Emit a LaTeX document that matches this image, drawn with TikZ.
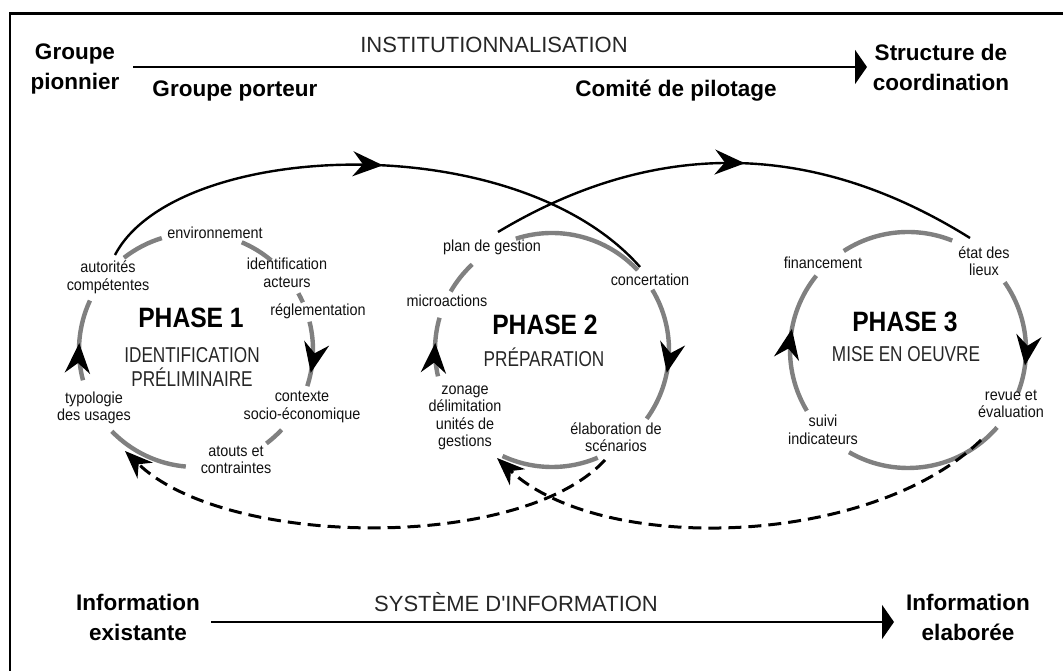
\documentclass[tikz,border=0pt]{standalone}
\usepackage{fontspec}
\setmainfont{Liberation Sans}
\newfontfamily\condfont{Liberation Sans}[FakeStretch=0.8]
\newfontfamily\phasefont{Liberation Sans}[FakeStretch=0.88]
\newfontfamily\lblfont{Liberation Sans}[FakeStretch=0.9]
\usetikzlibrary{arrows.meta,decorations.markings}
\definecolor{ring}{HTML}{808080}
\definecolor{soft}{HTML}{262626}
\definecolor{ink}{HTML}{111111}
\tikzset{
  frame/.style={draw=black, line width=2.5pt},
  axis/.style={draw=black, line width=2.2pt, -{Triangle[length=12pt,width=34pt]}},
  actor/.style={text=black, font=\fontsize{22.5}{30}\selectfont\bfseries, align=center, inner sep=0pt},
  axislbl/.style={text=soft, font=\fontsize{22}{26}\selectfont, inner sep=0pt},
  phase/.style={text=black, font=\phasefont\bfseries\fontsize{28}{30}\selectfont, inner sep=0pt},
  subphase/.style={text=soft, font=\condfont\fontsize{21.5}{23.5}\selectfont, align=center, inner sep=0pt},
  lbl/.style={text=ink, font=\lblfont\fontsize{16}{17.5}\selectfont, align=center, inner sep=0pt},
  ringarc/.style={draw=ring, line width=4.4pt},
  loopline/.style={draw=black, line width=2.4pt},
  backline/.style={draw=black, line width=3pt, dash pattern=on 13pt off 7pt, -{Stealth[length=28pt,width=22pt,inset=9pt]}},
  midtip/.style={postaction={decorate}, decoration={markings, mark=at position #1 with {\arrow{Stealth[length=30pt,width=25pt,inset=10pt,color=black]}}}}
}

\begin{document}
\begin{tikzpicture}[x=1pt,y=1pt]
  \useasboundingbox (0,0) rectangle (1063,671);
  \draw[frame] (10,-20) |- (1090,657.5);

  % institutionnalisation
  \coordinate (instA) at (133,604);
  \coordinate (instB) at (867,604);
  \draw[axis] (instA) -- (instB);
  \node[actor] (pion) at (75,602) {Groupe\\pionnier};
  \node[axislbl, anchor=base] (inst) at (494,618) {INSTITUTIONNALISATION};
  \node[actor, anchor=base] (port) at (235,574) {Groupe porteur};
  \node[actor, anchor=base] (copil) at (676,574) {Comité de pilotage};
  \node[actor] (coord) at (941,604) {Structure de\\coordination};

  % systeme d'information
  \coordinate (infA) at (211,49);
  \coordinate (infB) at (894,49);
  \draw[axis] (infA) -- (infB);
  \node[actor] (exist) at (138,53.5) {Information\\existante};
  \node[axislbl, anchor=base] (sysinf) at (516,59) {SYSTÈME D\textquotesingle INFORMATION};
  \node[actor] (elab) at (968,53.5) {Information\\elaborée};

  % the three cycles
  \coordinate (c1) at (196,321);
  \coordinate (c2) at (552,321);
  \coordinate (c3) at (908,321);

  \foreach \a/\b in {128/107, 67/50, 29/24, -43/-53, 265/224}
    \draw[ringarc] (c1) ++(\a:117) arc[start angle=\a, end angle=\b, radius=117];
  \draw[ringarc, midtip=0.79] (c1) ++(14:117) arc[start angle=14, end angle=-18, radius=117];
  \draw[ringarc, midtip=0.46] (c1) ++(195:117) arc[start angle=195, end angle=155, radius=117];

  \foreach \a/\b in {150/133, 108/43, 293/245}
    \draw[ringarc] (c2) ++(\a:117) arc[start angle=\a, end angle=\b, radius=117];
  \draw[ringarc, midtip=0.63] (c2) ++(31:117) arc[start angle=31, end angle=-36, radius=117];
  \draw[ringarc, midtip=0.57] (c2) ++(193:117) arc[start angle=193, end angle=164, radius=117];

  \foreach \a/\b in {123/68, -41/-120}
    \draw[ringarc] (c3) ++(\a:118) arc[start angle=\a, end angle=\b, radius=118];
  \draw[ringarc, midtip=0.76] (c3) ++(35:118) arc[start angle=35, end angle=-21, radius=118];
  \draw[ringarc, midtip=0.59] (c3) ++(211:118) arc[start angle=211, end angle=141, radius=118];

  % links between phases
  \coordinate (aS) at (115,416);
  \coordinate (aE) at (640,404);
  \draw[loopline, midtip=0.51] (aS) .. controls (175,531) and (515,546) .. (aE);
  \coordinate (bS) at (498,439);
  \coordinate (bE) at (970,433);
  \draw[loopline, midtip=0.52] (bS) .. controls (655,533) and (813,531) .. (bE);

  % feedback
  \coordinate (dS) at (605,211);
  \coordinate (dE) at (125,220);
  \draw[backline] (dS) .. controls (520,119) and (225,123) .. (dE);
  \coordinate (eS) at (981,231);
  \coordinate (eE) at (497,213);
  \draw[backline] (eS) .. controls (870,123) and (600,116) .. (eE);

  % phase 1
  \node[lbl] (autor) at (108,393.5) {autorités\\compétentes};
  \node[lbl] (envir) at (215,438) {environnement};
  \node[lbl] (ident) at (287,398) {identification\\acteurs};
  \node[lbl] (regle) at (318,360) {réglementation};
  \node[lbl] (socio) at (302,264) {contexte\\socio-économique};
  \node[lbl] (atout) at (236,211) {atouts et\\contraintes};
  \node[lbl] (typo) at (94,263) {typologie\\des usages};
  \node[phase, anchor=base] (ph1) at (191,343) {PHASE 1};
  \node[subphase] (ph1sub) at (192,304) {IDENTIFICATION\\PRÉLIMINAIRE};

  % phase 2
  \node[lbl] (plan) at (492,424) {plan de gestion};
  \node[lbl] (micro) at (447,370) {microactions};
  \node[lbl] (zonage) at (465,253) {zonage\\délimitation\\unités de\\gestions};
  \node[lbl] (scen) at (616,234) {élaboration de\\scénarios};
  \node[lbl] (concert) at (650,391) {concertation};
  \node[phase, anchor=base] (ph2) at (545,336) {PHASE 2};
  \node[subphase, anchor=base] (ph2sub) at (544,304) {PRÉPARATION};

  % phase 3
  \node[lbl] (finan) at (823,408) {financement};
  \node[lbl] (etat) at (984,410) {état des\\lieux};
  \node[lbl] (revue) at (1011,267) {revue et\\évaluation};
  \node[lbl] (suivi) at (823,241) {suivi\\indicateurs};
  \node[phase, anchor=base] (ph3) at (905,339) {PHASE 3};
  \node[subphase, anchor=base] (ph3sub) at (906,309) {MISE EN OEUVRE};
\end{tikzpicture}
\end{document}
